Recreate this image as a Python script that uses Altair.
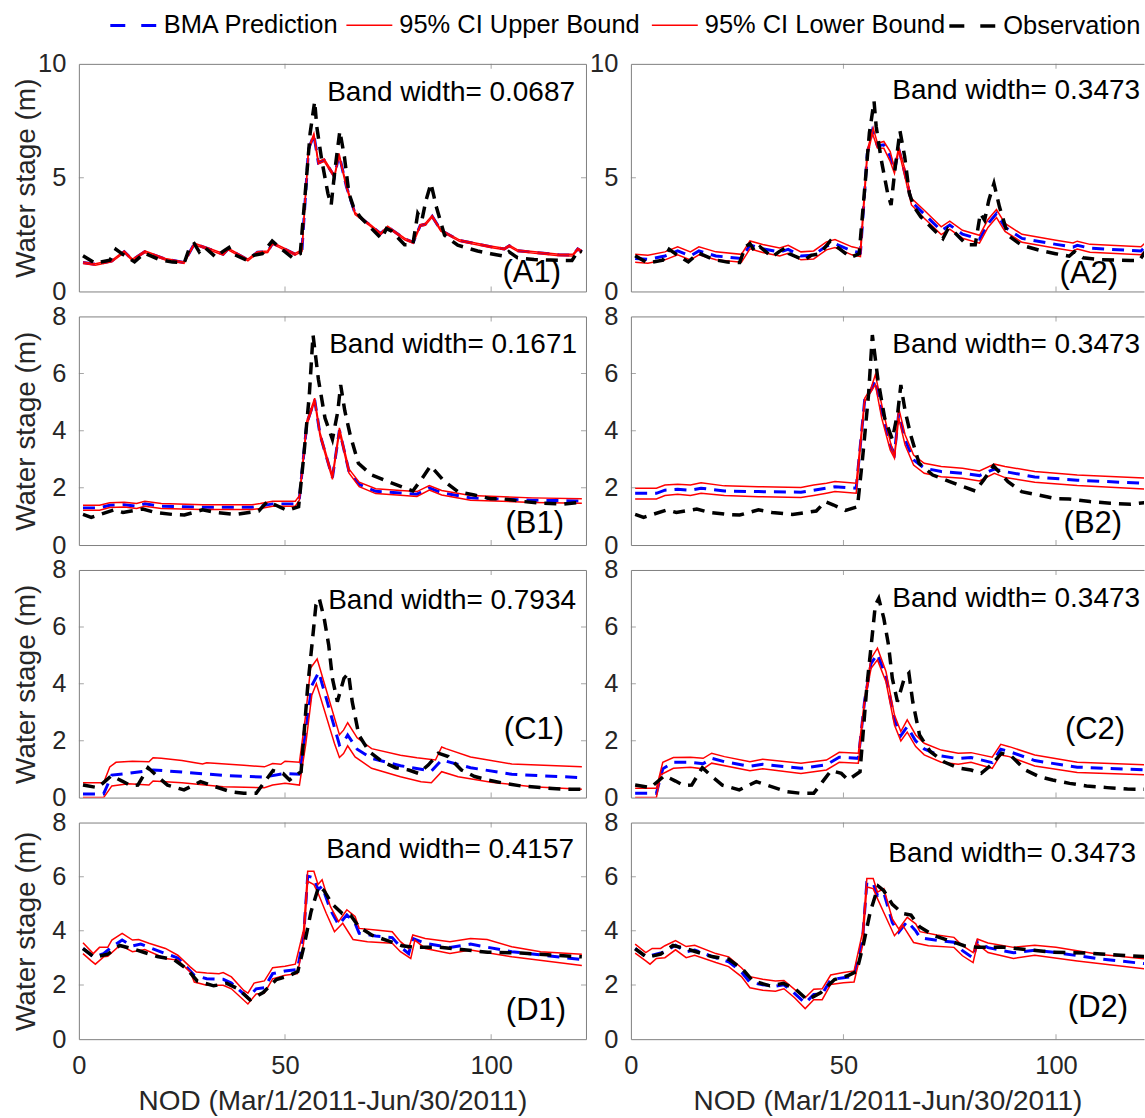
import altair as alt
import pandas as pd

FONT = "Liberation Sans, Arial, Helvetica, sans-serif"
AXC = "#808080"
TXT = "#262626"

SERIES = ["BMA Prediction", "95% CI Upper Bound", "95% CI Lower Bound", "Observation"]
BLUE, RED, BLACK = "#0000ff", "#ff0000", "#000000"
DASH = [12, 8]
LEG_DASH = [15, 16]

XTICKS = [0, 50, 100]
X_TITLE = "NOD (Mar/1/2011-Jun/30/2011)"
Y_TITLE = "Water stage (m)"

# ---------------- data (day, water stage) ----------------
A_OBS = [(1, 1.57), (3.9, 1.25), (7.5, 1.37), (9, 1.85), (10.5, 1.65), (13.5, 1.30), (15.9, 1.69),
         (19.5, 1.40), (22.7, 1.29), (25.6, 1.27), (26.9, 1.96), (28, 2.10), (29.2, 1.74), (30.4, 1.96),
         (33.2, 1.51), (34.8, 1.74), (36.4, 1.93), (37.2, 1.66), (40.8, 1.37), (42.4, 1.59), (44.5, 1.66),
         (46.9, 2.22), (48.5, 1.96), (51.7, 1.50), (53.7, 1.66), (54.9, 4.31), (56.1, 6.96), (57.2, 8.35),
         (57.7, 7.25), (58.9, 5.78), (60.4, 4.31), (61.2, 3.80), (62.1, 5.34), (63.3, 7.05), (64.4, 5.93),
         (65.5, 4.31), (66.6, 3.72), (68.2, 3.28), (71, 2.76), (73.4, 2.32), (74.6, 2.76), (75.8, 2.66),
         (79, 2.05), (81, 2.05), (82.2, 3.43), (83.2, 3.13), (84.2, 4.01), (85.4, 4.75), (86.7, 3.72),
         (88.7, 2.47), (91.9, 2.03), (96.7, 1.78), (99.9, 1.66), (103.1, 1.55), (104.3, 1.75), (106.4, 1.48),
         (110.4, 1.40), (114.4, 1.38), (117.6, 1.36), (119.6, 1.36), (121.2, 1.80), (122, 1.72)]

A1_DAYS = [1, 4, 8, 11, 13, 16, 21, 25.5, 28, 31, 35, 36.2, 41, 43.3, 45.8, 47, 52.4, 54.1, 55.7, 57,
           58.1, 59.5, 62, 63.1, 64.9, 67, 70.7, 73.2, 74.9, 79, 81.1, 82.8, 84, 85.7, 87.8, 92.3, 99.8,
           103.2, 104.4, 106.5, 116.5, 119.8, 121, 122]
A1_UP = [1.30, 1.22, 1.37, 1.78, 1.42, 1.78, 1.45, 1.30, 2.12, 1.93, 1.67, 1.90, 1.42, 1.75, 1.78, 2.15,
         1.67, 1.82, 6.30, 6.93, 5.70, 5.82, 5.10, 6.07, 4.66, 3.46, 2.94, 2.57, 2.87, 2.34, 2.19, 2.94,
         2.99, 3.34, 2.72, 2.27, 2.00, 1.90, 2.04, 1.82, 1.64, 1.63, 1.90, 1.79]
A1_LO = [1.23, 1.15, 1.30, 1.71, 1.35, 1.71, 1.38, 1.23, 2.05, 1.86, 1.60, 1.83, 1.35, 1.68, 1.71, 2.08,
         1.60, 1.75, 6.20, 6.83, 5.60, 5.72, 5.00, 5.97, 4.56, 3.38, 2.87, 2.50, 2.80, 2.27, 2.12, 2.86,
         2.91, 3.26, 2.65, 2.20, 1.93, 1.83, 1.97, 1.75, 1.57, 1.56, 1.83, 1.72]
A1_BMA = [1.27, 1.19, 1.34, 1.75, 1.39, 1.75, 1.42, 1.27, 2.09, 1.90, 1.64, 1.87, 1.39, 1.72, 1.75, 2.12,
          1.64, 1.79, 6.25, 6.88, 5.65, 5.77, 5.05, 6.02, 4.61, 3.42, 2.91, 2.54, 2.84, 2.31, 2.16, 2.90,
          2.95, 3.30, 2.69, 2.24, 1.97, 1.87, 2.01, 1.79, 1.61, 1.60, 1.87, 1.76]

A2_UP = [(1, 1.63), (4, 1.59), (8, 1.74), (11, 1.96), (14, 1.74), (16, 1.96), (20, 1.74), (26, 1.63),
         (28, 2.22), (31, 2.06), (35, 1.91), (37, 2.03), (40, 1.74), (43, 1.78), (46, 2.18), (48, 2.28),
         (52, 1.96), (54, 1.88), (55.6, 6.2), (57, 7.18), (58, 6.51), (59.5, 6.59), (61, 6.15), (62, 5.41),
         (63, 6.34), (64.5, 5.34), (66, 4.09), (69, 3.57), (73, 2.84), (75, 3.09), (78, 2.69), (82, 2.47),
         (84, 3.16), (86, 3.60), (88, 2.99), (92, 2.51), (100, 2.25), (104, 2.13), (105, 2.21), (108, 2.07),
         (120, 1.96), (122, 2.32)]
A2_LO = [(1, 1.28), (4, 1.24), (8, 1.39), (11, 1.61), (14, 1.39), (16, 1.61), (20, 1.39), (26, 1.28),
         (28, 1.87), (31, 1.71), (35, 1.56), (37, 1.68), (40, 1.39), (43, 1.43), (46, 1.83), (48, 1.93),
         (52, 1.61), (54, 1.53), (55.6, 5.9), (56.8, 6.95), (58, 6.3), (59.5, 6.29), (61, 5.71), (62, 5.19),
         (63, 6.2), (64.5, 5.0), (66, 3.8), (69, 3.22), (73, 2.5), (75, 2.74), (78, 2.34), (82, 2.12),
         (84, 2.81), (86, 3.25), (88, 2.64), (92, 2.16), (100, 1.9), (104, 1.78), (105, 1.86), (108, 1.72),
         (120, 1.61), (122, 1.97)]
A2_BMA = [(1, 1.45), (4, 1.41), (8, 1.56), (11, 1.78), (14, 1.56), (16, 1.78), (20, 1.56), (26, 1.45),
          (28, 2.04), (31, 1.88), (35, 1.73), (37, 1.85), (40, 1.56), (43, 1.6), (46, 2.0), (48, 2.1),
          (52, 1.78), (54, 1.7), (55.6, 6.05), (56.8, 7.05), (58, 6.4), (59.5, 6.44), (61, 5.93), (62, 5.3),
          (63, 6.27), (64.5, 5.17), (66, 3.95), (69, 3.4), (73, 2.67), (75, 2.92), (78, 2.52), (82, 2.3),
          (84, 2.98), (86, 3.42), (88, 2.82), (92, 2.33), (100, 2.07), (104, 1.95), (105, 2.03), (108, 1.9),
          (120, 1.78), (122, 2.15)]

B_OBS = [(1, 1.07), (3, 0.97), (8.5, 1.23), (10.7, 1.14), (15.5, 1.26), (18.5, 1.14), (22.7, 1.07),
         (25.6, 1.05), (30, 1.23), (33.2, 1.14), (38, 1.07), (43.6, 1.19), (45.7, 1.52), (47.7, 1.40),
         (50.5, 1.21), (53.3, 1.34), (54.5, 3.04), (55.9, 5.26), (56.8, 7.35), (58.1, 5.80), (59.7, 4.44),
         (61.5, 3.70), (62.8, 4.67), (63.5, 5.60), (64.5, 4.70), (65.8, 3.86), (67.8, 2.86), (71, 2.45),
         (75, 2.22), (78.2, 2.04), (81, 1.89), (83, 2.28), (85.3, 2.77), (88.7, 2.22), (91.9, 1.87),
         (95.9, 1.75), (99.9, 1.62), (103.1, 1.61), (108, 1.52), (112.8, 1.46), (117.6, 1.43), (122, 1.50)]

B1_UP = [(1, 1.39), (5, 1.39), (7.5, 1.48), (11, 1.50), (14, 1.45), (16, 1.53), (20, 1.45), (30, 1.41),
         (42, 1.41), (44, 1.45), (47, 1.53), (52.5, 1.53), (53.5, 1.73), (55.3, 4.34), (57.2, 5.14),
         (58.5, 3.93), (61.5, 2.43), (63.2, 4.10), (65.5, 2.66), (68, 2.20), (72, 1.97), (78, 1.91),
         (82, 1.87), (85, 2.08), (88, 1.91), (95, 1.73), (110, 1.65), (122, 1.62)]
B1_LO = [(1, 1.22), (5, 1.22), (7.5, 1.31), (11, 1.33), (14, 1.28), (16, 1.36), (20, 1.28), (30, 1.24),
         (42, 1.24), (44, 1.28), (47, 1.36), (52.5, 1.36), (53.5, 1.58), (55.3, 4.20), (57.2, 5.02),
         (58.5, 3.80), (61.5, 2.30), (63.2, 3.95), (65.5, 2.52), (68, 2.04), (72, 1.80), (78, 1.74),
         (82, 1.70), (85, 1.92), (88, 1.75), (95, 1.57), (110, 1.49), (122, 1.46)]
B1_BMA = [(1, 1.30), (5, 1.30), (7.5, 1.39), (11, 1.41), (14, 1.36), (16, 1.44), (20, 1.36), (30, 1.32),
          (42, 1.32), (44, 1.36), (47, 1.44), (52.5, 1.44), (53.5, 1.65), (55.3, 4.27), (57.2, 5.08),
          (58.5, 3.86), (61.5, 2.36), (63.2, 4.02), (65.5, 2.59), (68, 2.12), (72, 1.88), (78, 1.82),
          (82, 1.78), (85, 2.00), (88, 1.83), (95, 1.65), (110, 1.57), (122, 1.54)]

B2_UP = [(1, 1.99), (6, 1.99), (8, 2.10), (11, 2.13), (14, 2.10), (16.5, 2.18), (22, 2.07), (30, 2.04),
         (40, 2.01), (43, 2.10), (46, 2.16), (48, 2.22), (53, 2.16), (55, 5.14), (56.5, 5.49), (57.5, 5.96),
         (59, 4.91), (61, 3.62), (62, 3.10), (63, 4.79), (64.5, 3.86), (66.5, 3.15), (69, 2.86), (73, 2.75),
         (78, 2.69), (82, 2.59), (85.5, 2.83), (88, 2.75), (95, 2.57), (105, 2.45), (122, 2.34)]
B2_LO = [(1, 1.61), (6, 1.61), (8, 1.73), (11, 1.78), (14, 1.73), (16.5, 1.81), (22, 1.73), (30, 1.69),
         (40, 1.66), (43, 1.73), (46, 1.81), (48, 1.87), (53, 1.81), (55, 5.02), (56.5, 5.37), (57.5, 5.61),
         (59, 4.44), (61, 3.33), (62, 3.04), (63, 4.44), (64.5, 3.50), (66.5, 2.80), (69, 2.51), (73, 2.39),
         (78, 2.34), (82, 2.24), (85.5, 2.51), (88, 2.36), (95, 2.20), (105, 2.08), (122, 1.95)]
B2_BMA = [(1, 1.81), (6, 1.81), (8, 1.92), (11, 1.95), (14, 1.92), (16.5, 1.99), (22, 1.89), (30, 1.87),
          (40, 1.85), (43, 1.92), (46, 1.99), (48, 2.04), (53, 1.99), (55, 5.08), (56.5, 5.43), (57.5, 5.78),
          (59, 4.67), (61, 3.48), (62, 3.21), (63, 4.61), (64.5, 3.68), (66.5, 2.98), (69, 2.69), (73, 2.57),
          (78, 2.51), (82, 2.43), (85.5, 2.66), (88, 2.57), (95, 2.38), (105, 2.27), (122, 2.15)]

C_OBS = [(1, 0.44), (4.6, 0.35), (7.9, 0.77), (10.5, 0.58), (12.5, 0.42), (14.3, 0.44), (16.8, 1.05),
         (19, 0.75), (21.5, 0.44), (25.5, 0.27), (29.5, 0.56), (31.9, 0.44), (36.7, 0.21), (40, 0.15),
         (43, 0.15), (45.1, 0.56), (47.1, 0.95), (49.5, 0.85), (51.1, 0.62), (53.9, 0.91), (55.5, 3.90),
         (56.7, 5.60), (57.5, 6.77), (58.3, 7.00), (59.5, 6.30), (60.6, 5.36), (61.5, 4.19), (62.7, 3.37),
         (64.3, 4.19), (65.4, 4.37), (66.3, 3.37), (67.9, 2.20), (70.4, 1.62), (73.6, 1.26), (76.8, 1.05),
         (80, 0.97), (82.4, 0.85), (84.8, 1.15), (87.2, 1.56), (89.6, 1.44), (92.8, 0.97), (96, 0.74),
         (99.2, 0.62), (103.2, 0.50), (107.2, 0.41), (112, 0.35), (116.8, 0.30), (122, 0.29)]

C1_UP = [(1, 0.52), (6, 0.52), (7.5, 1.08), (9, 1.24), (13, 1.28), (17, 1.26), (18, 1.40), (20, 1.38),
         (25, 1.30), (30, 1.18), (31, 1.22), (40, 1.14), (45, 1.08), (47, 1.20), (49, 1.17), (50, 1.28),
         (53.5, 1.24), (55, 2.89), (56.2, 4.55), (57.8, 4.87), (63.2, 2.21), (64.2, 2.37), (65.2, 2.63),
         (67.5, 2.10), (71, 1.72), (78, 1.49), (82, 1.40), (86.5, 1.32), (88, 1.78), (89, 1.72), (95, 1.43),
         (105, 1.18), (122, 1.08)]
C1_LO = [(1, 0.0), (6, 0.0), (8, 0.41), (12, 0.49), (17, 0.44), (18, 0.58), (25, 0.52), (35, 0.38),
         (45, 0.35), (47, 0.44), (50, 0.50), (53.5, 0.44), (55, 1.84), (56.5, 3.60), (57.6, 4.00), (62, 1.90),
         (63.2, 1.41), (64.2, 1.55), (65.2, 1.82), (67, 1.43), (71, 1.03), (78, 0.73), (83, 0.56),
         (85.5, 0.52), (88, 0.91), (92, 0.73), (100, 0.54), (110, 0.38), (122, 0.29)]
C1_BMA = [(1, 0.13), (6, 0.13), (8, 0.79), (12, 0.85), (18, 0.97), (25, 0.90), (35, 0.78), (45, 0.72),
          (50, 0.85), (53.5, 0.82), (55, 2.31), (56.5, 3.94), (58.2, 4.41), (63.2, 1.85), (64.2, 1.95),
          (65.2, 2.20), (67.5, 1.70), (71, 1.38), (78, 1.12), (85.5, 0.93), (88, 1.32), (95, 1.05),
          (105, 0.82), (122, 0.70)]

C2_UP = [(1, 0.33), (6, 0.33), (7.5, 1.24), (10, 1.41), (14, 1.42), (17, 1.38), (19, 1.56), (22, 1.44),
         (28, 1.26), (31, 1.35), (40, 1.21), (46, 1.32), (49, 1.59), (53.5, 1.56), (55, 3.49), (56.5, 4.89),
         (58, 5.25), (60, 4.43), (62, 2.90), (63.5, 2.32), (65, 2.73), (67, 2.20), (69, 1.91), (73, 1.67),
         (77, 1.56), (80, 1.58), (85, 1.42), (87, 1.87), (89, 1.79), (95, 1.50), (105, 1.24), (122, 1.15)]
C2_LO = [(1, 0.0), (6, 0.0), (7, 0.80), (10, 1.03), (14, 1.07), (17, 1.01), (19, 1.21), (28, 0.94),
         (31, 1.01), (40, 0.85), (46, 0.97), (49, 1.24), (53.5, 1.21), (55, 3.37), (56.5, 4.54), (58, 4.84),
         (60, 4.07), (62, 2.55), (63.5, 1.99), (65, 2.30), (67, 1.79), (69, 1.50), (73, 1.24), (77, 1.17),
         (80, 1.24), (85, 1.03), (87, 1.50), (89, 1.44), (95, 1.11), (105, 0.88), (122, 0.80)]
C2_BMA = [(1, 0.15), (6, 0.15), (7.5, 1.01), (10, 1.24), (14, 1.24), (17, 1.19), (19, 1.38), (22, 1.26),
          (28, 1.10), (31, 1.17), (40, 1.03), (46, 1.15), (49, 1.42), (53.5, 1.38), (55, 3.43), (56.5, 4.72),
          (58, 5.04), (60, 4.25), (62, 2.73), (63.5, 2.18), (65, 2.49), (67, 1.99), (69, 1.71), (73, 1.46),
          (77, 1.37), (80, 1.41), (85, 1.23), (87, 1.70), (89, 1.62), (95, 1.30), (105, 1.07), (122, 0.97)]

D_OBS = [(1, 3.34), (3.8, 3.02), (7, 3.14), (9.9, 3.46), (13, 3.34), (15.9, 3.20), (19, 3.05), (23, 2.95),
         (26.3, 2.58), (28.7, 2.15), (32.7, 1.97), (35.9, 2.06), (38.7, 1.85), (41.5, 1.45), (44.7, 1.72),
         (47.9, 2.20), (51.1, 2.35), (53.1, 2.50), (54.7, 3.50), (56.3, 4.70), (58.2, 5.65), (59.5, 5.48),
         (61.5, 4.98), (63.9, 4.64), (65.9, 4.58), (67.9, 4.15), (71.2, 3.83), (75.2, 3.62), (78.4, 3.45),
         (81.6, 3.39), (87.2, 3.40), (92.8, 3.31), (99.2, 3.21), (107.2, 3.18), (115.2, 3.10), (122, 3.04)]

D1_UP = [(1, 3.56), (3.5, 3.16), (5, 3.39), (7, 3.39), (8, 3.66), (10.5, 3.91), (13, 3.66), (14.5, 3.68),
         (17, 3.54), (21, 3.35), (24, 3.10), (27, 2.67), (28.5, 2.48), (31, 2.44), (34, 2.42), (35, 2.46),
         (37, 2.30), (40, 1.80), (41, 1.70), (42.5, 2.07), (45, 2.15), (47, 2.64), (50, 2.69), (52.5, 2.77),
         (54.5, 4.03), (55.5, 6.20), (57, 6.20), (58, 5.71), (59, 5.89), (61, 4.90), (63, 4.34), (65, 4.78),
         (67, 4.53), (68, 4.09), (72, 4.03), (76, 3.97), (78, 3.60), (80, 3.35), (81, 3.85), (84, 3.72),
         (90, 3.60), (95, 3.72), (99, 3.68), (105, 3.41), (112, 3.23), (122, 3.14)]
D1_LO = [(1, 3.16), (3, 2.89), (4, 2.77), (6, 3.04), (7, 3.06), (10, 3.47), (13, 3.23), (16, 3.31),
         (21, 2.98), (24, 2.92), (27, 2.48), (28, 2.11), (31, 1.99), (35, 1.99), (37, 1.86), (41, 1.30),
         (43, 1.67), (45, 1.70), (47, 2.23), (50, 2.36), (53, 2.42), (54.5, 3.54), (55.5, 5.83), (57, 5.71),
         (58, 5.40), (60, 4.65), (62, 3.97), (64, 4.28), (66.5, 3.68), (70, 3.60), (76, 3.54), (78, 3.23),
         (80.5, 2.98), (81.5, 3.66), (84, 3.35), (90, 3.16), (95, 3.29), (105, 3.04), (122, 2.72)]
D1_BMA = [(1, 3.35), (3.5, 3.04), (6, 3.16), (8, 3.41), (10.5, 3.66), (13, 3.44), (15, 3.51), (21, 3.16),
          (24, 3.00), (28, 2.36), (31, 2.23), (35, 2.21), (37, 2.07), (41, 1.53), (43, 1.86), (45, 1.90),
          (47, 2.42), (50, 2.52), (53, 2.57), (54.5, 3.78), (55.5, 6.02), (57, 5.96), (58, 5.52), (59, 5.65),
          (61, 4.78), (63, 4.22), (65, 4.59), (67, 4.28), (68, 3.91), (72, 3.81), (76, 3.75), (78, 3.41),
          (80, 3.16), (81, 3.72), (84, 3.54), (90, 3.39), (95, 3.51), (105, 3.23), (122, 2.94)]

D2_UP = [(1, 3.51), (3.5, 3.20), (5, 3.35), (7, 3.35), (8, 3.45), (10.5, 3.64), (13, 3.42), (15, 3.47),
         (20, 3.16), (23, 3.04), (26, 2.64), (28, 2.31), (31, 2.21), (34, 2.15), (36, 2.17), (38.5, 1.84),
         (41, 1.53), (43, 1.84), (45, 1.86), (47, 2.37), (50, 2.46), (52.5, 2.52), (54.5, 3.95), (55.5, 5.93),
         (57, 5.93), (58, 5.43), (59.5, 5.56), (61.5, 4.44), (63, 4.07), (65, 4.50), (67, 4.26), (68, 3.97),
         (72, 3.85), (76, 3.76), (78, 3.45), (80.5, 3.20), (81.5, 3.70), (84, 3.55), (90, 3.39), (95, 3.47),
         (100, 3.39), (110, 3.14), (122, 2.95)]
D2_LO = [(1, 3.18), (3.5, 2.89), (4.5, 2.77), (6, 2.98), (8, 3.01), (10.5, 3.30), (13, 3.01), (15, 3.10),
         (20, 2.83), (23, 2.68), (26, 2.31), (28, 1.90), (31, 1.81), (34, 1.77), (36, 1.86), (38.5, 1.53),
         (41, 1.13), (43, 1.46), (45, 1.46), (47, 2.02), (50, 2.08), (52.5, 2.11), (54.5, 3.45), (55.5, 5.62),
         (57, 5.56), (58, 5.19), (60, 4.50), (62, 3.82), (64, 4.19), (66.5, 3.57), (70, 3.45), (76, 3.39),
         (78, 3.08), (80.5, 2.83), (81.5, 3.51), (84, 3.20), (90, 2.98), (95, 3.10), (105, 2.89), (122, 2.58)]
D2_BMA = [(1, 3.35), (3.5, 3.04), (5, 3.10), (7, 3.18), (8, 3.23), (10.5, 3.47), (13, 3.22), (15, 3.29),
          (20, 3.00), (23, 2.86), (26, 2.48), (28, 2.10), (31, 2.01), (34, 1.96), (36, 2.01), (38.5, 1.69),
          (41, 1.33), (43, 1.65), (45, 1.66), (47, 2.20), (50, 2.27), (52.5, 2.32), (54.5, 3.70), (55.5, 5.78),
          (57, 5.75), (58, 5.31), (59.5, 5.40), (61.5, 4.30), (63, 3.95), (65, 4.35), (67, 4.00), (68, 3.75),
          (72, 3.65), (76, 3.58), (78, 3.27), (80.5, 3.00), (81.5, 3.60), (84, 3.38), (90, 3.19), (95, 3.28),
          (100, 3.20), (110, 2.97), (122, 2.77)]

BAND = {"A1": "0.0687", "A2": "0.3473", "B1": "0.1671", "B2": "0.3473",
        "C1": "0.7934", "C2": "0.3473", "D1": "0.4157", "D2": "0.3473"}


def a1_pts(vals):
    return list(zip(A1_DAYS, vals))


PANEL_DATA = {
    "A1": (a1_pts(A1_BMA), a1_pts(A1_UP), a1_pts(A1_LO), A_OBS),
    "A2": (A2_BMA, A2_UP, A2_LO, A_OBS),
    "B1": (B1_BMA, B1_UP, B1_LO, B_OBS),
    "B2": (B2_BMA, B2_UP, B2_LO, B_OBS),
    "C1": (C1_BMA, C1_UP, C1_LO, C_OBS),
    "C2": (C2_BMA, C2_UP, C2_LO, C_OBS),
    "D1": (D1_BMA, D1_UP, D1_LO, D_OBS),
    "D2": (D2_BMA, D2_UP, D2_LO, D_OBS),
}

# ---------------- layout (pixels) ----------------
COL_W = [508, 514]
COL_XMAX = [123, 120.7]
ROW_H = [228, 229, 228, 217]
ROW_YMAX = [10, 8, 8, 8]
ROW_YTICKS = [[0, 5, 10], [0, 2, 4, 6, 8], [0, 2, 4, 6, 8], [0, 2, 4, 6, 8]]
# (band text right inset, band baseline, label right inset, label baseline)
TEXT_POS = {
    "A1": (11, 37, 25, 219), "A2": (4, 35, 26, 220),
    "B1": (9, 37, 22, 217), "B2": (4, 37, 22, 217),
    "C1": (10, 39, 22, 169), "C2": (4, 37, 19, 169),
    "D1": (12, 36, 20, 198), "D2": (8, 40, 16, 195),
}
LEG_Y = -63


def leg(x, width, dash=None):
    kw = dict(title=None, orient="none", legendX=x, legendY=LEG_Y, direction="horizontal",
              symbolStrokeWidth=width)
    if dash is not None:
        kw["symbolDash"] = dash
    return alt.Legend(**kw)


def make_panel(key, row, col):
    W, H = COL_W[col], ROW_H[row]
    xmax, ymax = COL_XMAX[col], ROW_YMAX[row]
    yticks = ROW_YTICKS[row]
    bottom = row == 3
    left = col == 0

    recs = []
    for name, pts in zip(SERIES, PANEL_DATA[key]):
        for d, v in pts:
            recs.append({"day": d, "value": v, "series": name})
    df = pd.DataFrame(recs)
    base = alt.Chart(df)

    xs = alt.Scale(domain=[0, xmax], nice=False, zero=False)
    ys = alt.Scale(domain=[0, ymax], nice=False, zero=False)

    x_axis = alt.Axis(orient="bottom", values=XTICKS, labels=bottom, labelFlush=False,
                      labelPadding=14, title=X_TITLE if bottom else None, titlePadding=9)
    y_axis = alt.Axis(orient="left", values=yticks, labelPadding=13,
                      title=Y_TITLE if left else None, titleX=-38)

    X0 = alt.X("day:Q", scale=xs, axis=x_axis)
    Y0 = alt.Y("value:Q", scale=ys, axis=y_axis)
    Xn = alt.X("day:Q", scale=xs, axis=None)
    Yn = alt.Y("value:Q", scale=ys, axis=None)

    bma = base.transform_filter(alt.datum.series == SERIES[0]).mark_line(
        clip=True, strokeWidth=3, strokeDash=DASH).encode(
        x=X0, y=Y0,
        stroke=alt.Stroke("series:N", scale=alt.Scale(domain=[SERIES[0]], range=[BLUE]),
                          legend=leg(30, 3, LEG_DASH)))
    red_color = alt.Color("series:N", scale=alt.Scale(domain=[SERIES[1], SERIES[2]], range=[RED, RED]),
                          legend=leg(267, 1.5))
    up = base.transform_filter(alt.datum.series == SERIES[1]).mark_line(
        clip=True, strokeWidth=1.5).encode(x=Xn, y=Yn, color=red_color)
    lo = base.transform_filter(alt.datum.series == SERIES[2]).mark_line(
        clip=True, strokeWidth=1.5).encode(x=Xn, y=Yn, color=red_color)
    obs = base.transform_filter(alt.datum.series == SERIES[3]).mark_line(
        clip=True, strokeWidth=3.5, strokeDash=DASH, color=BLACK).encode(
        x=Xn, y=Yn,
        opacity=alt.Opacity("series:N", scale=alt.Scale(domain=[SERIES[3]], range=[1, 1]),
                            legend=leg(870, 3.5, LEG_DASH)))

    layers = [bma, up, lo, obs]

    # inward tick marks on the box (MATLAB style) + top/right box edges
    xt = pd.DataFrame({"day": [50, 100, 50, 100], "value": [0, 0, ymax, ymax]})
    layers.append(
        alt.Chart(xt).mark_tick(orient="vertical", size=10, thickness=1, color=AXC, clip=True)
        .encode(
            x=alt.X("day:Q", scale=xs, axis=alt.Axis(orient="top", values=XTICKS, labels=False, title=None)),
            y=Yn,
        )
    )
    inner = [v for v in yticks if 0 < v < ymax]
    yt_days = [0] * len(inner) + ([xmax] * len(inner) if left else [])
    yt_vals = inner + (inner if left else [])
    yt = pd.DataFrame({"day": yt_days, "value": yt_vals})
    layers.append(
        alt.Chart(yt).mark_tick(orient="horizontal", size=10, thickness=1, color=AXC, clip=True)
        .encode(
            x=Xn,
            y=alt.Y("value:Q", scale=ys,
                    axis=alt.Axis(orient="right", values=yticks, labels=False, title=None) if left else None),
        )
    )

    bi, bb, li, lb = TEXT_POS[key]
    layers.append(
        alt.Chart(pd.DataFrame({"t": ["Band width= " + BAND[key]]}))
        .mark_text(align="right", baseline="alphabetic", fontSize=28, font=FONT, color=BLACK)
        .encode(text="t:N", x=alt.value(W - bi), y=alt.value(bb))
    )
    layers.append(
        alt.Chart(pd.DataFrame({"t": ["(" + key + ")"]}))
        .mark_text(align="right", baseline="alphabetic", fontSize=31, font=FONT, color=BLACK)
        .encode(text="t:N", x=alt.value(W - li), y=alt.value(lb))
    )

    return alt.layer(*layers).properties(width=W, height=H).resolve_axis(x="independent", y="independent")


panels = []
for r, rowname in enumerate("ABCD"):
    for c in range(2):
        panels.append(make_panel(f"{rowname}{c + 1}", r, c))

chart = (
    alt.concat(*panels, columns=2, spacing={"row": 25, "column": 45}, bounds="flush", align="each")
    .properties(padding={"left": 12, "top": 0, "right": 0, "bottom": 0})
    .configure_view(stroke="transparent")
    .configure_axis(
        labelFont=FONT, titleFont=FONT, labelFontSize=25.5, titleFontSize=28,
        labelColor=TXT, titleColor=TXT, titleFontWeight="normal",
        domainColor=AXC, domainWidth=1, ticks=False, grid=False,
    )
    .configure_legend(
        labelFont=FONT, labelFontSize=25.5, labelColor=BLACK, labelLimit=400,
        labelOffset=6, columnPadding=9, symbolSize=2116, symbolType="stroke",
        padding=0, rowPadding=0,
    )
)

chart.save("out.html", embed_options={"renderer": "svg", "actions": False})
